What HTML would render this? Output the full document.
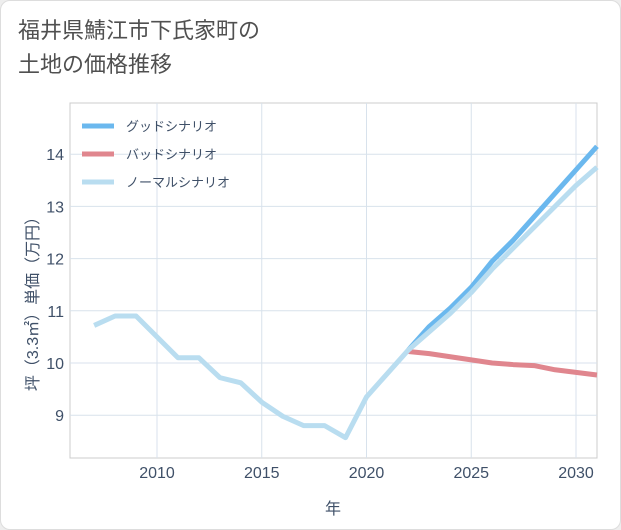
<!DOCTYPE html>
<html><head><meta charset="utf-8">
<style>
body{margin:0;background:#eeeeee;font-family:"Liberation Sans","Noto Sans CJK JP",sans-serif;}
#card{position:absolute;left:0;top:0;width:619px;height:528px;background:#fff;border:1px solid #ddd;border-radius:10px;}
#title{position:absolute;left:18px;top:14px;font-size:22px;line-height:34px;color:#505050;}
svg{position:absolute;left:0;top:0;}
</style></head><body>
<div id="card"></div>
<div id="title">福井県鯖江市下氏家町の<br>土地の価格推移</div>
<svg id="chart" width="621" height="530"></svg>
<script>
const years=[2007,2008,2009,2010,2011,2012,2013,2014,2015,2016,2017,2018,2019,2020,2021,2022,2023,2024,2025,2026,2027,2028,2029,2030,2031];
const normal=[10.72,10.9,10.9,10.5,10.1,10.1,9.72,9.62,9.25,8.98,8.8,8.8,8.57,9.35,9.8,10.25,10.6,10.95,11.35,11.8,12.2,12.6,13.0,13.4,13.75];
const goodYears=[2022,2023,2024,2025,2026,2027,2028,2029,2030,2031];
const good=[10.25,10.7,11.05,11.45,11.95,12.35,12.8,13.25,13.7,14.15];
const bad=[10.22,10.18,10.12,10.06,10.0,9.97,9.95,9.87,9.82,9.77];
const xTicks=[2010,2015,2020,2025,2030];
const yTicks=[9,10,11,12,13,14];
const L=70,R=597,T=103,B=458;
const TXT='#3f5068';
const x=v=>157+(v-2010)*(576-157)/20;
const y=v=>363-(v-10)*52.2;
const svg=document.getElementById('chart');
const NS='http://www.w3.org/2000/svg';
function mk(t,a){const e=document.createElementNS(NS,t);for(const k in a)e.setAttribute(k,a[k]);svg.appendChild(e);return e;}
const bg=mk('rect',{x:L,y:T,width:R-L,height:B-T,fill:'#fff',stroke:'#ccc'});


xTicks.forEach(v=>{
 const g=mk('line',{x1:x(v),x2:x(v),y1:T,y2:B,stroke:'#d8e2ec'});
 
 
 const t=mk('text',{x:x(v),y:478,'text-anchor':'middle','font-size':16,fill:TXT});
 t.textContent=v;
 
 
});
yTicks.forEach(v=>{
 const g=mk('line',{x1:L,x2:R,y1:y(v),y2:y(v),stroke:'#d8e2ec'});
 
 
 const t=mk('text',{x:64,y:y(v)+6,'text-anchor':'end','font-size':16,fill:TXT});
 t.textContent=v;
 
 
});
function line(xs,ys,c,name){
 const p=mk('polyline',{points:xs.map((v,i)=>x(v)+','+y(ys[i])).join(' '),fill:'none',stroke:c,'stroke-width':5,'stroke-linejoin':'round'});
 
 
}
line(goodYears,good,'#6bb8ee','good-scenario-line');
line(goodYears,bad,'#e0868e','bad-scenario-line');
line(years,normal,'#b9ddf0','normal-scenario-line');
const leg=[['グッドシナリオ','#6bb8ee'],['バッドシナリオ','#e0868e'],['ノーマルシナリオ','#b9ddf0']];
leg.forEach((l,i)=>{
 const yy=126+i*28;
 const s=mk('line',{x1:82,x2:114,y1:yy,y2:yy,stroke:l[1],'stroke-width':5});
 
 
 const t=mk('text',{x:126,y:yy+5,'font-size':13,fill:TXT});
 t.textContent=l[0];
 
 
});
const xt=mk('text',{x:333,y:514,'text-anchor':'middle','font-size':16,fill:TXT});
xt.textContent='年';


const yt=mk('text',{x:0,y:0,'text-anchor':'middle','font-size':16,fill:TXT,transform:'translate(38,300) rotate(-90)'});
yt.textContent='坪（3.3㎡）単価（万円）';


</script>
</body></html>
